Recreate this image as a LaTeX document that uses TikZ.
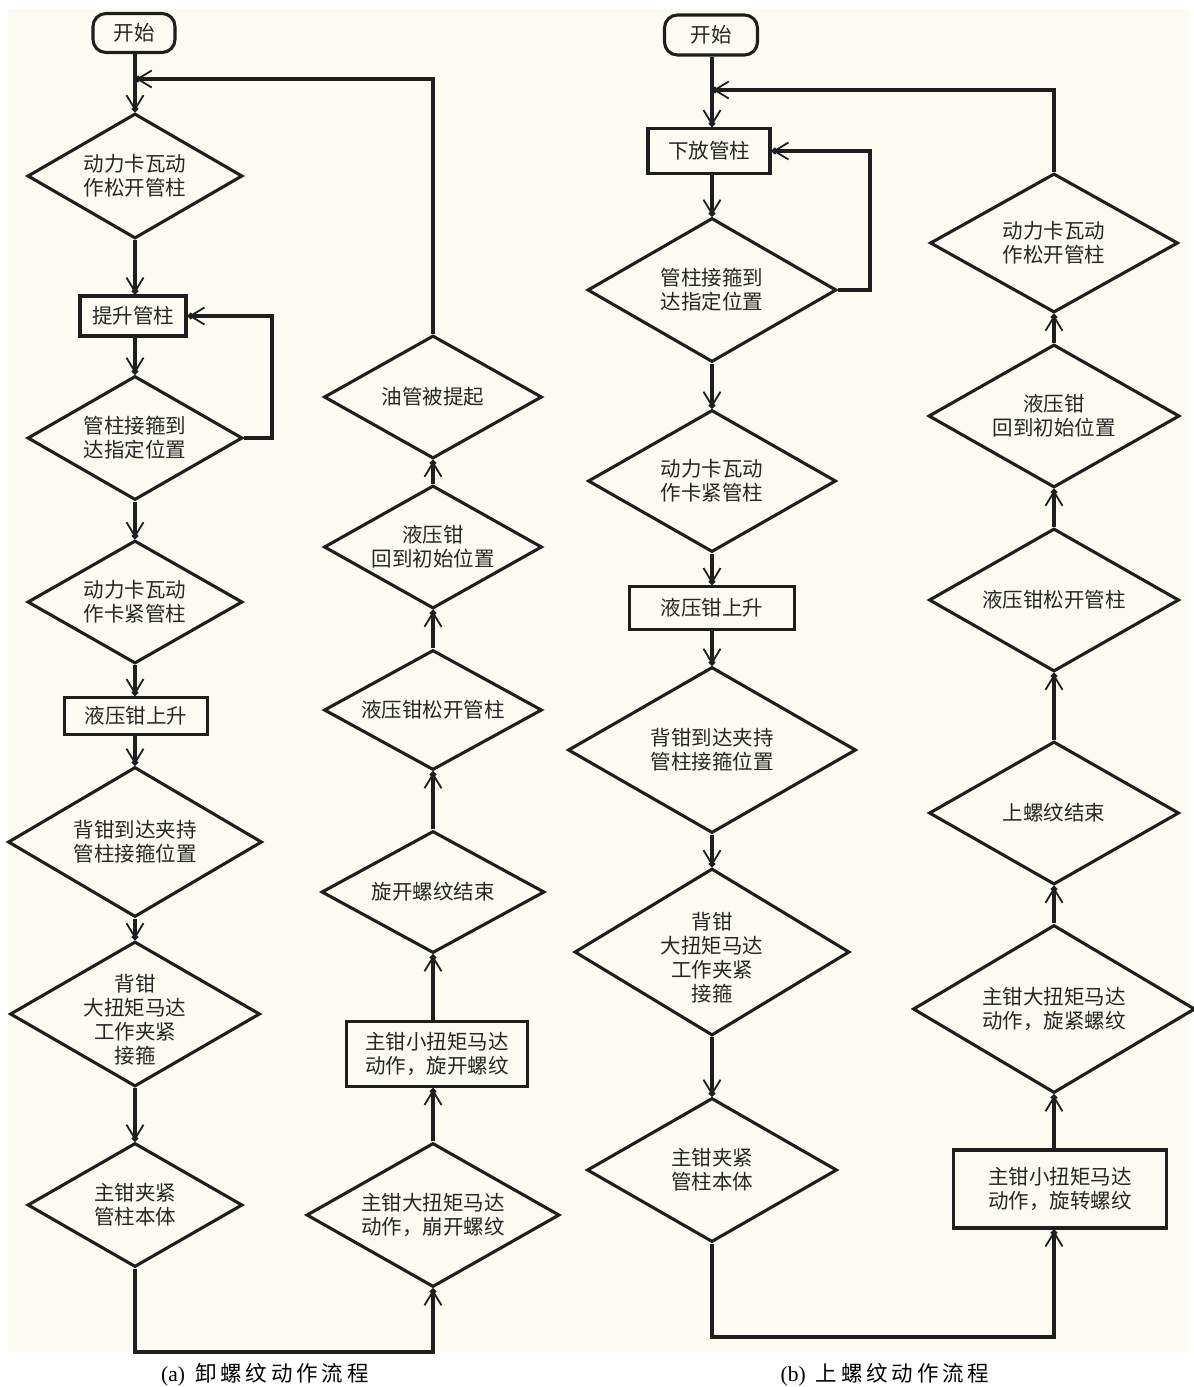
\documentclass[tikz,border=0pt]{standalone}
\usepackage{fontspec}
\setmainfont{Liberation Serif}
\newfontfamily\cjk{Noto Sans CJK SC}
\newfontfamily\cjkcap[LetterSpace=18]{Noto Sans CJK SC}
\usetikzlibrary{shapes.geometric,arrows.meta}
\definecolor{bg}{HTML}{FCFBF1}
\definecolor{ink}{HTML}{1E1E1E}
\definecolor{txt}{HTML}{262626}
\begin{document}
\begin{tikzpicture}[x=1pt,y=-1pt,
  every node/.style={font=\cjk\fontsize{20.5}{24}\selectfont, text=txt},
  lbl/.style={align=center, inner sep=0pt},
  dia/.style={diamond, draw=ink, line width=3.1pt, inner sep=0pt},
  box/.style={rectangle, draw=ink, line width=3.4pt, inner sep=0pt, align=center},
  term/.style={rectangle, rounded corners=13pt, draw=ink, line width=3.1pt, inner sep=0pt},
  arr/.style={draw=ink, line width=3.1pt, -{Straight Barb[length=14pt,width=17pt,line width=1.8pt,sep=-5pt] Circle[length=6pt]}},
  captext/.style={font=\fontsize{21.5}{24}\selectfont, text=black}
]
\useasboundingbox (0,0) rectangle (1194,1387);
\fill[white] (0,0) rectangle (1194,1387);
\fill[bg] (8,9) rectangle (1190,1352);

% ---------- (a) ----------
\node[term, minimum width=82pt, minimum height=39pt] (sa) at (134,33) {开始};
\node[dia, minimum width=215pt, minimum height=125pt, label={[lbl]center:{动力卡瓦动\\作松开管柱}}] (a1) at (135,176) {};
\node[box, minimum width=106pt, minimum height=40pt] (a2) at (133,316) {提升管柱};
\node[dia, minimum width=215pt, minimum height=124pt, label={[lbl]center:{管柱接箍到\\达指定位置}}] (a3) at (135,438) {};
\node[dia, minimum width=215pt, minimum height=123pt, label={[lbl]center:{动力卡瓦动\\作卡紧管柱}}] (a4) at (135,602) {};
\node[box, minimum width=143pt, minimum height=37pt] (a5) at (136,716) {液压钳上升};
\node[dia, minimum width=254pt, minimum height=150pt, label={[lbl]center:{背钳到达夹持\\管柱接箍位置}}] (a6) at (135,842) {};
\node[dia, minimum width=250pt, minimum height=145pt, label={[lbl,yshift=-6pt]center:{背钳\\大扭矩马达\\工作夹紧\\接箍}}] (a7) at (135,1014) {};
\node[dia, minimum width=215pt, minimum height=124pt, label={[lbl]center:{主钳夹紧\\管柱本体}}] (a8) at (135,1205) {};

\node[dia, minimum width=253pt, minimum height=144pt, label={[lbl]center:{主钳大扭矩马达\\动作，崩开螺纹}}] (a9) at (433,1215) {};
\node[box, minimum width=181pt, minimum height=65pt] (a10) at (437,1054) {主钳小扭矩马达\\动作，旋开螺纹};
\node[dia, minimum width=223pt, minimum height=122pt, label={[lbl]center:{旋开螺纹结束}}] (a11) at (433,892) {};
\node[dia, minimum width=218pt, minimum height=120pt, label={[lbl]center:{液压钳松开管柱}}] (a12) at (433,710) {};
\node[dia, minimum width=218pt, minimum height=123pt, label={[lbl]center:{液压钳\\回到初始位置}}] (a13) at (433,547) {};
\node[dia, minimum width=218pt, minimum height=123pt, label={[lbl]center:{油管被提起}}] (a14) at (433,397) {};

\coordinate (ja) at (135,79);
\coordinate (la) at (272,316);
\coordinate (ca) at (433,1352);

\draw[arr] (sa.south -| a1.north) -- (a1.north);
\draw[arr] (a14.north) |- (ja);
\draw[arr] (a1.south) -- (a1.south |- a2.north);
\draw[arr] (a1.south |- a2.south) -- (a3.north);
\draw[arr] (a3.east) -| (la) -- (a2.east);
\draw[arr] (a3.south) -- (a4.north);
\draw[arr] (a4.south) -- (a4.south |- a5.north);
\draw[arr] (a4.south |- a5.south) -- (a6.north);
\draw[arr] (a6.south) -- (a7.north);
\draw[arr] (a7.south) -- (a8.north);
\draw[arr] (a8.south) |- (ca) -- (a9.south);
\draw[arr] (a9.north) -- (a9.north |- a10.south);
\draw[arr] (a9.north |- a10.north) -- (a11.south);
\draw[arr] (a11.north) -- (a12.south);
\draw[arr] (a12.north) -- (a13.south);
\draw[arr] (a13.north) -- (a14.south);

% ---------- (b) ----------
\node[term, minimum width=93pt, minimum height=40pt] (sb) at (711,35) {开始};
\node[box, minimum width=122pt, minimum height=45pt] (b1) at (709,151) {下放管柱};
\node[dia, minimum width=249pt, minimum height=144pt, label={[lbl]center:{管柱接箍到\\达指定位置}}] (b2) at (712,290) {};
\node[dia, minimum width=248pt, minimum height=142pt, label={[lbl]center:{动力卡瓦动\\作卡紧管柱}}] (b3) at (712,481) {};
\node[box, minimum width=165pt, minimum height=43pt] (b4) at (712,608) {液压钳上升};
\node[dia, minimum width=288pt, minimum height=166pt, label={[lbl]center:{背钳到达夹持\\管柱接箍位置}}] (b5) at (712,750) {};
\node[dia, minimum width=275pt, minimum height=167pt, label={[lbl,yshift=-6pt]center:{背钳\\大扭矩马达\\工作夹紧\\接箍}}] (b6) at (712,952) {};
\node[dia, minimum width=250pt, minimum height=144pt, label={[lbl]center:{主钳夹紧\\管柱本体}}] (b7) at (712,1170) {};

\node[box, minimum width=213pt, minimum height=78pt] (b8) at (1060,1189) {主钳小扭矩马达\\动作，旋转螺纹};
\node[dia, minimum width=282pt, minimum height=168pt, label={[lbl]center:{主钳大扭矩马达\\动作，旋紧螺纹}}] (b9) at (1054,1009) {};
\node[dia, minimum width=250pt, minimum height=143pt, label={[lbl]center:{上螺纹结束}}] (b10) at (1054,813) {};
\node[dia, minimum width=250pt, minimum height=143pt, label={[lbl]center:{液压钳松开管柱}}] (b11) at (1054,600) {};
\node[dia, minimum width=251pt, minimum height=143pt, label={[lbl]center:{液压钳\\回到初始位置}}] (b12) at (1054,416) {};
\node[dia, minimum width=248pt, minimum height=139pt, label={[lbl]center:{动力卡瓦动\\作松开管柱}}] (b13) at (1054,243) {};

\coordinate (jb) at (712,90);
\coordinate (lb) at (870,151);
\coordinate (cb) at (1054,1337);

\draw[arr] (sb.south -| b2.north) -- (b2.north |- b1.north);
\draw[arr] (b13.north) |- (jb);
\draw[arr] (b2.north |- b1.south) -- (b2.north);
\draw[arr] (b2.east) -| (lb) -- (b1.east);
\draw[arr] (b2.south) -- (b3.north);
\draw[arr] (b3.south) -- (b3.south |- b4.north);
\draw[arr] (b3.south |- b4.south) -- (b5.north);
\draw[arr] (b5.south) -- (b6.north);
\draw[arr] (b6.south) -- (b7.north);
\draw[arr] (b7.south) |- (cb) -- (cb |- b8.south);
\draw[arr] (cb |- b8.north) -- (b9.south);
\draw[arr] (b9.north) -- (b10.south);
\draw[arr] (b10.north) -- (b11.south);
\draw[arr] (b11.north) -- (b12.south);
\draw[arr] (b12.north) -- (b13.south);

% ---------- captions ----------
\node[captext] (capa) at (265,1375) {(a)\hspace{10pt}{\cjkcap 卸螺纹动作流程}};
\node[captext] (capb) at (885,1375) {(b)\hspace{10pt}{\cjkcap 上螺纹动作流程}};
\end{tikzpicture}
\end{document}
